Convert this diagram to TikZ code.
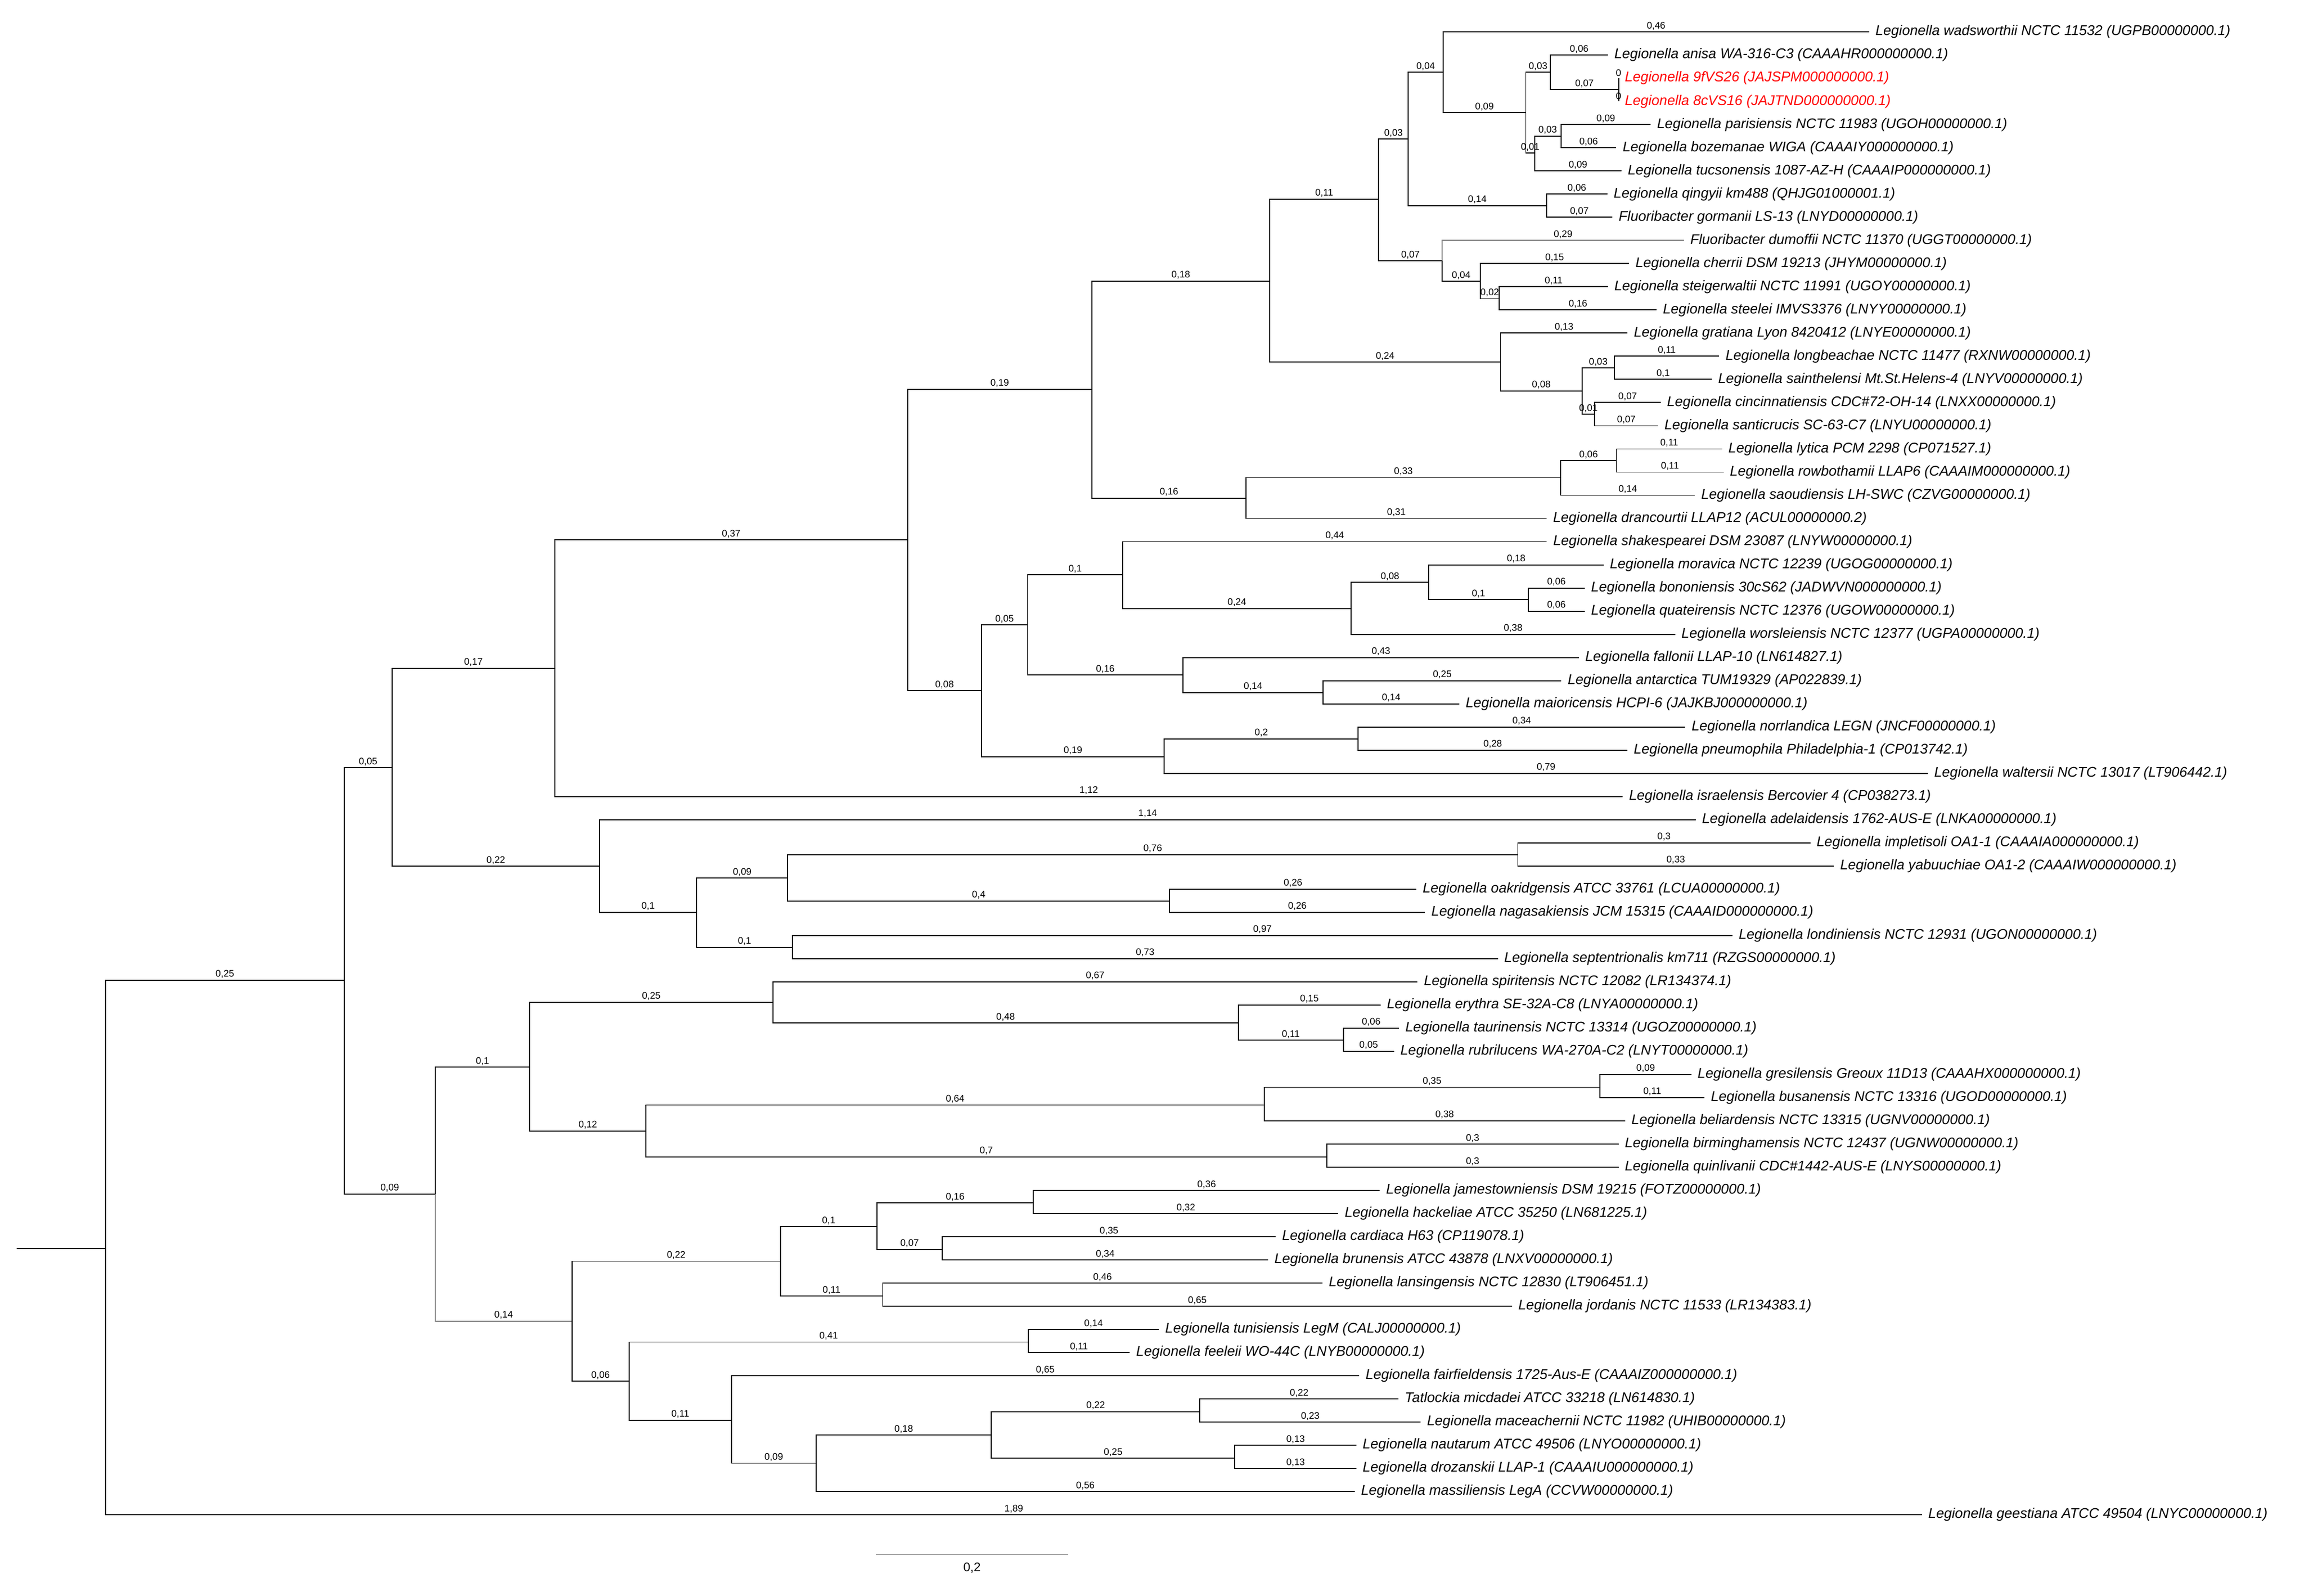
\documentclass[tikz,border=0pt]{standalone}
\usepackage{fontspec}
\setmainfont{Liberation Sans}
\begin{document}
\begin{tikzpicture}[x=1pt,y=-1pt,line width=0.7pt,
  bl/.style={pos=0.75,above,inner sep=1pt,font=\fontsize{6.5}{6.5}\selectfont},
  leaf/.style={anchor=west,xshift=3pt,inner sep=1pt,font=\fontsize{9.6}{10}\selectfont\itshape}]
\useasboundingbox (0,0) rectangle (1568,1086);
\newcommand\Br[3]{\draw (#1) |- node[bl]{#3} (#2);}
\newcommand\Leaf[5][black]{\coordinate (#2) at (#4,{21.7+(#3-1)*15.77});\node[leaf,text=#1] at (#2) {#5};}
\Leaf{l1}{1}{1272}{Legionella wadsworthii NCTC 11532 (UGPB00000000.1)}
\Leaf{l2}{2}{1094.3}{Legionella anisa WA-316-C3 (CAAAHR000000000.1)}
\Leaf[red]{l3}{3}{1101.5}{Legionella 9fVS26 (JAJSPM000000000.1)}
\Leaf[red]{l4}{4}{1101.5}{Legionella 8cVS16 (JAJTND000000000.1)}
\Leaf{l5}{5}{1123.4}{Legionella parisiensis NCTC 11983 (UGOH00000000.1)}
\Leaf{l6}{6}{1100}{Legionella bozemanae WIGA (CAAAIY000000000.1)}
\Leaf{l7}{7}{1103.5}{Legionella tucsonensis 1087-AZ-H (CAAAIP000000000.1)}
\Leaf{l8}{8}{1093.9}{Legionella qingyii km488 (QHJG01000001.1)}
\Leaf{l9}{9}{1097.3}{Fluoribacter gormanii LS-13 (LNYD00000000.1)}
\Leaf{l10}{10}{1146}{Fluoribacter dumoffii NCTC 11370 (UGGT00000000.1)}
\Leaf{l11}{11}{1108.7}{Legionella cherrii DSM 19213 (JHYM00000000.1)}
\Leaf{l12}{12}{1094.3}{Legionella steigerwaltii NCTC 11991 (UGOY00000000.1)}
\Leaf{l13}{13}{1127.4}{Legionella steelei IMVS3376 (LNYY00000000.1)}
\Leaf{l14}{14}{1107.6}{Legionella gratiana Lyon 8420412 (LNYE00000000.1)}
\Leaf{l15}{15}{1170}{Legionella longbeachae NCTC 11477 (RXNW00000000.1)}
\Leaf{l16}{16}{1165}{Legionella sainthelensi Mt.St.Helens-4 (LNYV00000000.1)}
\Leaf{l17}{17}{1130.2}{Legionella cincinnatiensis CDC\#72-OH-14 (LNXX00000000.1)}
\Leaf{l18}{18}{1128.4}{Legionella santicrucis SC-63-C7 (LNYU00000000.1)}
\Leaf{l19}{19}{1172}{Legionella lytica PCM 2298 (CP071527.1)}
\Leaf{l20}{20}{1173}{Legionella rowbothamii LLAP6 (CAAAIM000000000.1)}
\Leaf{l21}{21}{1153.4}{Legionella saoudiensis LH-SWC (CZVG00000000.1)}
\Leaf{l22}{22}{1052.6}{Legionella drancourtii LLAP12 (ACUL00000000.2)}
\Leaf{l23}{23}{1052.7}{Legionella shakespearei DSM 23087 (LNYW00000000.1)}
\Leaf{l24}{24}{1091.3}{Legionella moravica NCTC 12239 (UGOG00000000.1)}
\Leaf{l25}{25}{1078.5}{Legionella bononiensis 30cS62 (JADWVN000000000.1)}
\Leaf{l26}{26}{1078.5}{Legionella quateirensis NCTC 12376 (UGOW00000000.1)}
\Leaf{l27}{27}{1140}{Legionella worsleiensis NCTC 12377 (UGPA00000000.1)}
\Leaf{l28}{28}{1074.5}{Legionella fallonii LLAP-10 (LN614827.1)}
\Leaf{l29}{29}{1062.6}{Legionella antarctica TUM19329 (AP022839.1)}
\Leaf{l30}{30}{993.1}{Legionella maioricensis HCPI-6 (JAJKBJ000000000.1)}
\Leaf{l31}{31}{1146.9}{Legionella norrlandica LEGN (JNCF00000000.1)}
\Leaf{l32}{32}{1107.5}{Legionella pneumophila Philadelphia-1 (CP013742.1)}
\Leaf{l33}{33}{1312}{Legionella waltersii NCTC 13017 (LT906442.1)}
\Leaf{l34}{34}{1104.3}{Legionella israelensis Bercovier 4 (CP038273.1)}
\Leaf{l35}{35}{1154}{Legionella adelaidensis 1762-AUS-E (LNKA00000000.1)}
\Leaf{l36}{36}{1232}{Legionella impletisoli OA1-1 (CAAAIA000000000.1)}
\Leaf{l37}{37}{1248}{Legionella yabuuchiae OA1-2 (CAAAIW000000000.1)}
\Leaf{l38}{38}{963.9}{Legionella oakridgensis ATCC 33761 (LCUA00000000.1)}
\Leaf{l39}{39}{969.8}{Legionella nagasakiensis JCM 15315 (CAAAID000000000.1)}
\Leaf{l40}{40}{1179}{Legionella londiniensis NCTC 12931 (UGON00000000.1)}
\Leaf{l41}{41}{1019.4}{Legionella septentrionalis km711 (RZGS00000000.1)}
\Leaf{l42}{42}{964.7}{Legionella spiritensis NCTC 12082 (LR134374.1)}
\Leaf{l43}{43}{939.5}{Legionella erythra SE-32A-C8 (LNYA00000000.1)}
\Leaf{l44}{44}{952.1}{Legionella taurinensis NCTC 13314 (UGOZ00000000.1)}
\Leaf{l45}{45}{948.7}{Legionella rubrilucens WA-270A-C2 (LNYT00000000.1)}
\Leaf{l46}{46}{1151}{Legionella gresilensis Greoux 11D13 (CAAAHX000000000.1)}
\Leaf{l47}{47}{1160}{Legionella busanensis NCTC 13316 (UGOD00000000.1)}
\Leaf{l48}{48}{1106}{Legionella beliardensis NCTC 13315 (UGNV00000000.1)}
\Leaf{l49}{49}{1101.5}{Legionella birminghamensis NCTC 12437 (UGNW00000000.1)}
\Leaf{l50}{50}{1101.5}{Legionella quinlivanii CDC\#1442-AUS-E (LNYS00000000.1)}
\Leaf{l51}{51}{939}{Legionella jamestowniensis DSM 19215 (FOTZ00000000.1)}
\Leaf{l52}{52}{910.8}{Legionella hackeliae ATCC 35250 (LN681225.1)}
\Leaf{l53}{53}{868.2}{Legionella cardiaca H63 (CP119078.1)}
\Leaf{l54}{54}{863}{Legionella brunensis ATCC 43878 (LNXV00000000.1)}
\Leaf{l55}{55}{900}{Legionella lansingensis NCTC 12830 (LT906451.1)}
\Leaf{l56}{56}{1029}{Legionella jordanis NCTC 11533 (LR134383.1)}
\Leaf{l57}{57}{788.7}{Legionella tunisiensis LegM (CALJ00000000.1)}
\Leaf{l58}{58}{768.9}{Legionella feeleii WO-44C (LNYB00000000.1)}
\Leaf{l59}{59}{925}{Legionella fairfieldensis 1725-Aus-E (CAAAIZ000000000.1)}
\Leaf{l60}{60}{951.7}{Tatlockia micdadei ATCC 33218 (LN614830.1)}
\Leaf{l61}{61}{966.8}{Legionella maceachernii NCTC 11982 (UHIB00000000.1)}
\Leaf{l62}{62}{923}{Legionella nautarum ATCC 49506 (LNYO00000000.1)}
\Leaf{l63}{63}{923}{Legionella drozanskii LLAP-1 (CAAAIU000000000.1)}
\Leaf{l64}{64}{921.9}{Legionella massiliensis LegA (CCVW00000000.1)}
\Leaf{l65}{65}{1308}{Legionella geestiana ATCC 49504 (LNYC00000000.1)}
% internal nodes
\coordinate (rt) at (71.9,849.7); \coordinate (st) at (11.2,849.7);
\coordinate (A) at (234.2,667.1); \coordinate (B) at (266.8,522.4); \coordinate (C) at (296.3,812.7);
\coordinate (D) at (377.6,454.9); \coordinate (E) at (408.1,589.5);
\coordinate (F) at (617.6,367.5); \coordinate (G) at (743.1,264.9); \coordinate (H) at (668,470.1);
\coordinate (K) at (864.1,191.3); \coordinate (LL) at (848,339);
\coordinate (M) at (938.3,135.6); \coordinate (N) at (1021.2,246.5);
\coordinate (R) at (958.4,94.7); \coordinate (P) at (981.5,177.5);
\coordinate (O) at (982.1,49.2); \coordinate (Qg) at (1052.4,139.9);
\coordinate (Q) at (1038.4,76.7); \coordinate (S) at (1055.1,49.2);
\coordinate (T) at (1044.3,104.2); \coordinate (U) at (1101.5,61.0);
\coordinate (V) at (1062.3,92.6); \coordinate (W) at (1007.3,191.5); \coordinate (X) at (1020.4,203.3);
\coordinate (Y) at (1076.7,266); \coordinate (Z) at (1098.7,250.5); \coordinate (AA) at (1085.2,282);
\coordinate (AC) at (1062.2,325); \coordinate (AB) at (1100,313.5);
\coordinate (I) at (699.3,425.3); \coordinate (J) at (792.4,515); \coordinate (I1) at (764.1,391.3);
\coordinate (J1) at (805.1,459.4); \coordinate (I2) at (919.5,414.2); \coordinate (I3) at (972.4,396.4);
\coordinate (I4) at (1040,408.2); \coordinate (J2) at (900.5,471.4); \coordinate (J3) at (924.3,502.9);
\coordinate (E2) at (474.1,620.9); \coordinate (E3) at (536.1,597.7); \coordinate (E4) at (539.3,644.8);
\coordinate (E5) at (1032.9,581.7); \coordinate (E6) at (796,613.2);
\coordinate (C1) at (360.5,726.3); \coordinate (Cb) at (389.2,899.2);
\coordinate (C2) at (526,682.1); \coordinate (C3) at (439.7,769.8);
\coordinate (C4) at (842.7,696.2); \coordinate (C5) at (914.2,708);
\coordinate (C6) at (860.3,752.1); \coordinate (C7) at (902.8,787.4); \coordinate (C8) at (1088.9,740);
\coordinate (Cc) at (531.2,858.4); \coordinate (Cd) at (428.2,940.1);
\coordinate (Cc1) at (596.8,834.8); \coordinate (Cc4) at (600.7,882.2);
\coordinate (Cc2) at (703.3,818.8); \coordinate (Cc3) at (641.3,850.5);
\coordinate (Tn) at (699.7,913.4); \coordinate (Ce) at (497.8,966.6);
\coordinate (Cf) at (555.4,995.9); \coordinate (Cg) at (674.7,976.8);
\coordinate (Mi) at (816.6,960.8); \coordinate (Na) at (840.4,992.5);
% edges
\draw (st) -- (rt);
\Br{rt}{A}{0,25}\Br{rt}{l65}{1,89}
\Br{A}{B}{0,05}\Br{A}{C}{0,09}
\Br{B}{D}{0,17}\Br{B}{E}{0,22}
\Br{D}{F}{0,37}\Br{D}{l34}{1,12}
\Br{F}{G}{0,19}\Br{F}{H}{0,08}
\Br{G}{K}{0,18}\Br{G}{LL}{0,16}
\Br{K}{M}{0,11}\Br{K}{N}{0,24}
\Br{M}{R}{0,03}\Br{M}{P}{0,07}
\Br{R}{O}{0,04}\Br{R}{Qg}{0,14}
\Br{O}{l1}{0,46}\Br{O}{Q}{0,09}
\Br{Q}{S}{0,03}\Br{Q}{T}{0,01}
\Br{S}{l2}{0,06}\Br{S}{U}{0,07}
\Br{U}{l3}{0}\Br{U}{l4}{0}
\Br{T}{V}{0,03}\Br{T}{l7}{0,09}
\Br{V}{l5}{0,09}\Br{V}{l6}{0,06}
\Br{Qg}{l8}{0,06}\Br{Qg}{l9}{0,07}
\draw[gray] (P) |- node[bl,black]{0,29} (l10);
\Br{P}{W}{0,04}
\Br{W}{l11}{0,15}\Br{W}{X}{0,02}
\Br{X}{l12}{0,11}\Br{X}{l13}{0,16}
\Br{N}{l14}{0,13}\Br{N}{Y}{0,08}
\Br{Y}{Z}{0,03}\Br{Y}{AA}{0,01}
\Br{Z}{l15}{0,11}\Br{Z}{l16}{0,1}
\Br{AA}{l17}{0,07}\Br{AA}{l18}{0,07}
\Br{LL}{AC}{0,33}\Br{LL}{l22}{0,31}
\Br{AC}{AB}{0,06}\Br{AC}{l21}{0,14}
\Br{AB}{l19}{0,11}\Br{AB}{l20}{0,11}
\Br{H}{I}{0,05}\Br{H}{J}{0,19}
\Br{I}{I1}{0,1}\Br{I}{J1}{0,16}
\Br{I1}{l23}{0,44}\Br{I1}{I2}{0,24}
\Br{I2}{I3}{0,08}\Br{I2}{l27}{0,38}
\Br{I3}{l24}{0,18}\Br{I3}{I4}{0,1}
\Br{I4}{l25}{0,06}\Br{I4}{l26}{0,06}
\Br{J1}{l28}{0,43}\Br{J1}{J2}{0,14}
\Br{J2}{l29}{0,25}\Br{J2}{l30}{0,14}
\Br{J}{J3}{0,2}\Br{J}{l33}{0,79}
\Br{J3}{l31}{0,34}\Br{J3}{l32}{0,28}
\Br{E}{l35}{1,14}\Br{E}{E2}{0,1}
\Br{E2}{E3}{0,09}\Br{E2}{E4}{0,1}
\Br{E3}{E5}{0,76}\Br{E3}{E6}{0,4}
\Br{E5}{l36}{0,3}\Br{E5}{l37}{0,33}
\Br{E6}{l38}{0,26}\Br{E6}{l39}{0,26}
\Br{E4}{l40}{0,97}\Br{E4}{l41}{0,73}
\Br{C}{C1}{0,1}
\draw[gray] (C) |- node[bl,black]{0,14} (Cb);
\Br{C1}{C2}{0,25}\Br{C1}{C3}{0,12}
\Br{C2}{l42}{0,67}\Br{C2}{C4}{0,48}
\Br{C4}{l43}{0,15}\Br{C4}{C5}{0,11}
\Br{C5}{l44}{0,06}\Br{C5}{l45}{0,05}
\Br{C3}{C6}{0,64}\Br{C3}{C7}{0,7}
\Br{C6}{C8}{0,35}\Br{C6}{l48}{0,38}
\Br{C8}{l46}{0,09}\Br{C8}{l47}{0,11}
\Br{C7}{l49}{0,3}\Br{C7}{l50}{0,3}
\Br{Cb}{Cc}{0,22}\Br{Cb}{Cd}{0,06}
\Br{Cc}{Cc1}{0,1}\Br{Cc}{Cc4}{0,11}
\Br{Cc1}{Cc2}{0,16}\Br{Cc1}{Cc3}{0,07}
\Br{Cc2}{l51}{0,36}\Br{Cc2}{l52}{0,32}
\Br{Cc3}{l53}{0,35}\Br{Cc3}{l54}{0,34}
\Br{Cc4}{l55}{0,46}\Br{Cc4}{l56}{0,65}
\Br{Cd}{Tn}{0,41}\Br{Cd}{Ce}{0,11}
\Br{Tn}{l57}{0,14}\Br{Tn}{l58}{0,11}
\Br{Ce}{l59}{0,65}\Br{Ce}{Cf}{0,09}
\Br{Cf}{Cg}{0,18}\Br{Cf}{l64}{0,56}
\Br{Cg}{Mi}{0,22}\Br{Cg}{Na}{0,25}
\Br{Mi}{l60}{0,22}\Br{Mi}{l61}{0,23}
\Br{Na}{l62}{0,13}\Br{Na}{l63}{0,13}
% scale bar
\coordinate (sb1) at (596,1058); \coordinate (sb2) at (727,1058);
\draw[gray!70] (sb1) -- node[below=2pt,black,font=\fontsize{8.5}{8.5}\selectfont]{0,2} (sb2);
\end{tikzpicture}
\end{document}
